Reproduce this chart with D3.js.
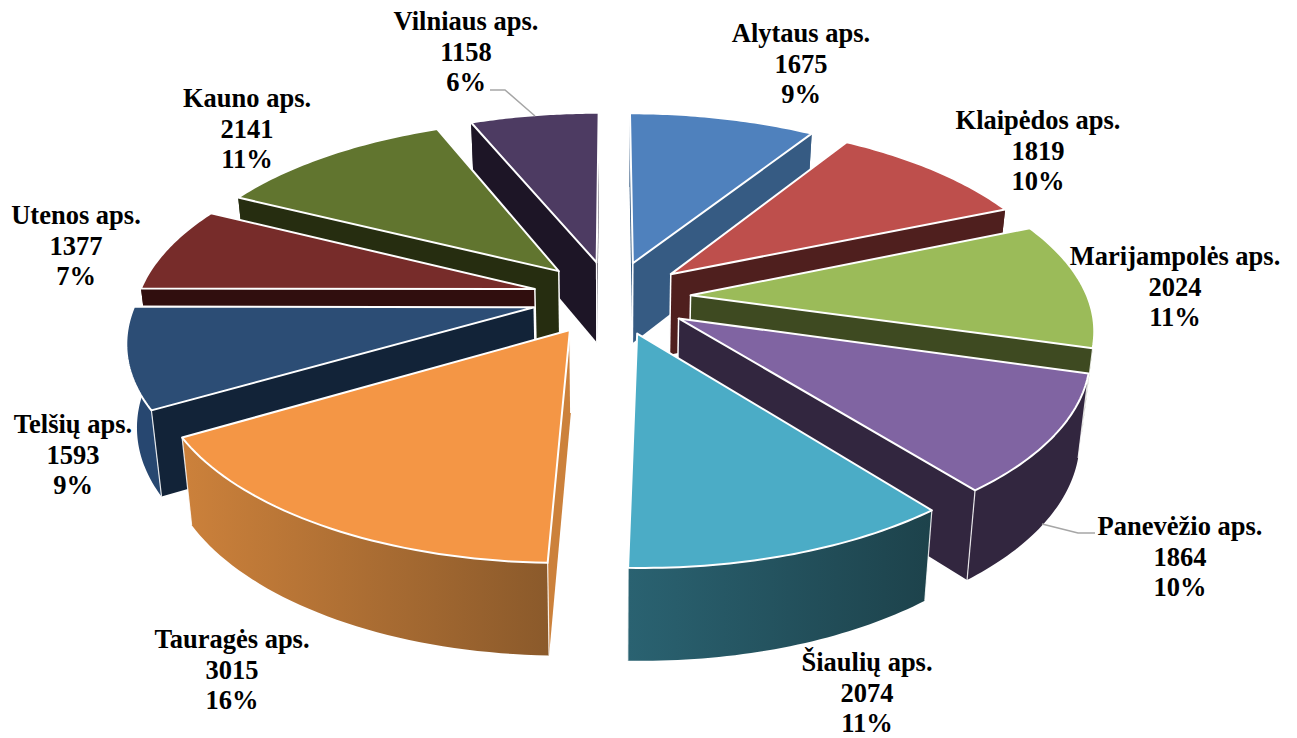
<!DOCTYPE html>
<html>
<head>
<meta charset="utf-8">
<script src="https://cdn.jsdelivr.net/npm/d3@7"></script>
<style>
  html, body { margin: 0; padding: 0; background: #fff; }
  svg { display: block; }
  text { font-family: "Liberation Serif", serif; font-weight: bold; font-size: 26.5px; fill: #000; text-anchor: middle; }
</style>
</head>
<body>
<div class="chart-area"></div>
<script>
// Data
const regions = ["Alytaus aps.", "Klaipėdos aps.", "Marijampolės aps.", "Panevėžio aps.", "Šiaulių aps.",
    "Tauragės aps.", "Telšių aps.", "Utenos aps.", "Kauno aps.", "Vilniaus aps."];
const counts = [1675, 1819, 2024, 1864, 2074, 3015, 1593, 1377, 2141, 1158];

// Colours per slice: top face, radial wall, outer wall left / right
const topColors = ["#4F81BD", "#BE4F4C", "#9BBB59", "#8064A2", "#4BACC6", "#F49645", "#2C4D75", "#772C2A", "#61752F", "#4D3B62"];
const wallColors = ["#365B83", "#4F1F1E", "#3E4A21", "#32263F", "#1D424B", "#CC813B", "#122338", "#300E0E", "#262D10", "#1D1526"];
const rimLeft = ["#365B83", "#4F1F1E", "#3E4A21", "#32263F", "#2A6271", "#CC813B", "#274770", "#300E0E", "#262D10", "#1D1526"];
const rimRight = ["#365B83", "#4F1F1E", "#3E4A21", "#32263F", "#1D424B", "#8B5A2B", "#274770", "#300E0E", "#262D10", "#1D1526"];

// Label centres (first line baseline), in pixels
const labelX = [801, 1038, 1175, 1180, 867, 232, 73, 76, 247, 466];
const labelY = [42, 129, 265, 535, 671, 648, 433, 224, 107, 30];
const lineStep = 30.5;

// Projection of the tilted pie
const svgWidth = 1297, svgHeight = 738;
const centerX = 611.5, centerY = 297.5;
const radiusX = 397, radiusY = 184;
const explode = 0.2;                  // slice pulled out by this share of the radius
const perspective = 0.16;
const converge = 0.022;               // vertical edges lean toward the middle

const svg = d3.select(".chart-area").append("svg")
    .attr("width", svgWidth)
    .attr("height", svgHeight);
const defs = svg.append("defs");

const pie = d3.pie().sort(null).startAngle(0).endAngle(2 * Math.PI);
const line = d3.line();

// ground plane point (unit radius) to screen
function project(px, pz) {
    const s = 1 / (1 + perspective * pz);
    return [centerX + radiusX * px * s, centerY - radiusY * pz * s];
}

// a top face point dropped down to the bottom of the slice
function drop(p) {
    return [p[0] - (p[0] - 612) * converge, p[1] + 80 + (p[1] - 262) * 0.042];
}

const slices = pie(counts).map((d, i) => {
    const mid = (d.startAngle + d.endAngle) / 2;
    const ox = explode * Math.sin(mid), oz = explode * Math.cos(mid);
    const apex = project(ox, oz);
    const at = a => project(ox + Math.sin(a), oz + Math.cos(a));
    const arc = d3.range(0, 41).map(k => at(d.startAngle + (d.endAngle - d.startAngle) * k / 40));
    return { i, mid, apex, arc, value: d.value };
});

// cross product of the rim edge and the vertical edge tells if a radial wall faces us
function wallFacing(apex, rim) {
    const low = drop(rim);
    return (rim[0] - apex[0]) * (low[1] - rim[1]) - (rim[1] - apex[1]) * (low[0] - rim[0]);
}

// Draw back to front
const order = slices.slice().sort((a, b) => Math.cos(b.mid) - Math.cos(a.mid));

const sliceGroups = svg.selectAll("g.slice")
    .data(order)
    .join("g")
    .attr("class", "slice");

sliceGroups.each(function(d) {
    const g = d3.select(this);
    const first = d.arc[0], last = d.arc[d.arc.length - 1];

    // outer wall
    const xs = d3.extent(d.arc, p => p[0]);
    const gradId = "rim-" + d.i;
    const grad = defs.append("linearGradient")
        .attr("id", gradId)
        .attr("gradientUnits", "userSpaceOnUse")
        .attr("x1", xs[0]).attr("x2", xs[1]).attr("y1", 0).attr("y2", 0);
    grad.append("stop").attr("offset", 0).attr("stop-color", rimLeft[d.i]);
    grad.append("stop").attr("offset", 1).attr("stop-color", rimRight[d.i]);

    g.append("path")
        .attr("d", line(d.arc.concat(d.arc.map(drop).reverse())) + "Z")
        .attr("fill", `url(#${gradId})`);

    // radial walls that face the viewer
    const walls = [];
    if (wallFacing(d.apex, first) < 0) walls.push(first);
    if (wallFacing(d.apex, last) > 0) walls.push(last);
    walls.forEach(rim => {
        g.append("path")
            .attr("d", line([d.apex, rim, drop(rim), drop(d.apex)]) + "Z")
            .attr("fill", wallColors[d.i]);
        g.append("path")
            .attr("d", line([d.apex, drop(d.apex)]))
            .attr("stroke", "#fff").attr("stroke-width", 1.5).attr("fill", "none");
    });

    // corner lines on the outer wall, only on the front half
    [first, last].forEach(rim => {
        if (rim[1] > d.apex[1] + 40) {
            g.append("path")
                .attr("d", line([rim, drop(rim)]))
                .attr("stroke", "#fff").attr("stroke-width", 1.2).attr("stroke-opacity", 0.85).attr("fill", "none");
        }
    });

    // top face
    g.append("path")
        .attr("d", line([d.apex].concat(d.arc)) + "Z")
        .attr("fill", topColors[d.i])
        .attr("stroke", "#fff")
        .attr("stroke-width", 2)
        .attr("stroke-linejoin", "round");
});

// Leader lines
const leaders = [
    [[490, 90], [505, 90], [535, 116]],
    [[1042, 524], [1078, 533], [1095, 533]]
];
svg.selectAll("path.leader")
    .data(leaders)
    .join("path")
    .attr("class", "leader")
    .attr("d", d => line(d))
    .attr("fill", "none")
    .attr("stroke", "#A6A6A6")
    .attr("stroke-width", 1.5);

// Labels
const total = d3.sum(counts);
const labels = svg.selectAll("g.label")
    .data(regions)
    .join("g")
    .attr("class", "label")
    .attr("transform", (d, i) => `translate(${labelX[i]},${labelY[i]})`);

labels.each(function(name, i) {
    const lines = [name, counts[i], Math.round(counts[i] / total * 100) + "%"];
    d3.select(this).selectAll("text")
        .data(lines)
        .join("text")
        .attr("y", (d, k) => k * lineStep)
        .text(d => d);
});
</script>
</body>
</html>
